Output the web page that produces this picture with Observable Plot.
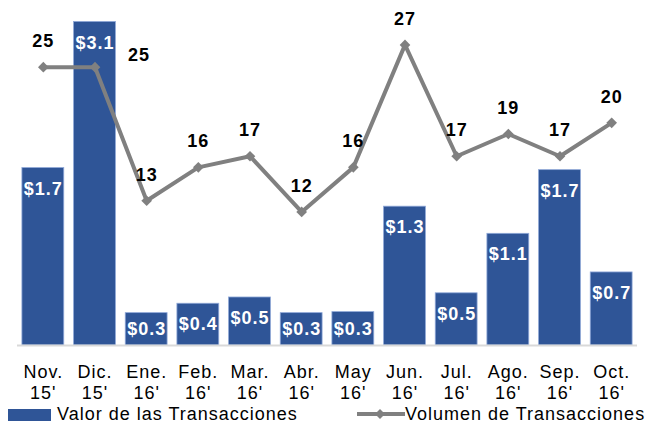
<!DOCTYPE html>
<html>
<head>
<meta charset="utf-8">
<script src="https://cdn.jsdelivr.net/npm/d3@7"></script>
<script src="https://cdn.jsdelivr.net/npm/@observablehq/plot@0.6"></script>
<style>
  html, body { margin: 0; padding: 0; background: #fff; }
  #chart { position: relative; width: 658px; height: 425px; font-family: "Liberation Sans", Arial, sans-serif; }
  #chart > svg { position: absolute; left: 0; top: 0; }
  .lg { position: absolute; font-size: 18px; letter-spacing: 1px; color: #000; line-height: 1; }
</style>
</head>
<body>
<div id="chart"></div>
<script>
const months = ["Nov.", "Dic.", "Ene.", "Feb.", "Mar.", "Abr.", "May", "Jun.", "Jul.", "Ago.", "Sep.", "Oct."];
const years  = ["15'", "15'", "16'", "16'", "16'", "16'", "16'", "16'", "16'", "16'", "16'", "16'"];
const valor   = [1.70, 3.10, 0.31, 0.40, 0.46, 0.31, 0.32, 1.33, 0.50, 1.07, 1.68, 0.70];
const volumen = [25, 25, 13, 16, 17, 12, 16, 27, 17, 19, 17, 20];

const data = months.map((m, i) => ({m, yr: years[i], v: valor[i], n: volumen[i]}));

const FONT = "Liberation Sans, Arial, sans-serif";
const common = {
  width: 658, height: 400,
  marginLeft: 17, marginRight: 21, marginTop: 11, marginBottom: 55,
  x: {type: "band", domain: months, paddingInner: 0.19, paddingOuter: 0.095, round: false, axis: null},
  style: {fontFamily: FONT, fontSize: "18px", background: "transparent", overflow: "visible"}
};

const bars = Plot.plot({
  ...common,
  y: {domain: [0, 3.2], axis: null},
  marks: [
    Plot.barY(data, {x: "m", y: "v", fill: "#2F5597", stroke: "#8FA8D8", strokeWidth: 0.8}),
    Plot.ruleY([0], {stroke: "#d9d9d9", strokeWidth: 2}),
    Plot.text(data, {
      x: "m", y: d => Math.max(d.v - 0.2, d.v / 2),
      text: d => "$" + d.v.toFixed(1),
      fill: "white", fontWeight: "bold", fontSize: 18
    }),
    Plot.text(data, {x: "m", y: () => 0, text: "m", dy: 27, fontSize: 18, fill: "#000"}),
    Plot.text(data, {x: "m", y: () => 0, text: "yr", dy: 48, fontSize: 18, fill: "#000"})
  ]
});

const line = Plot.plot({
  ...common,
  y: {domain: [0, 30], axis: null},
  marks: [
    Plot.line(data, {x: "m", y: "n", stroke: "#808080", strokeWidth: 4}),
    Plot.dot(data, {x: "m", y: "n", symbol: "diamond2", r: 4.8, fill: "#808080"}),
    Plot.text(data, {filter: d => d.m !== "Dic.", x: "m", y: "n", text: d => String(d.n), dy: -26, fontWeight: "bold", fontSize: 18, fill: "#000"}),
    Plot.text(data, {filter: d => d.m === "Dic.", x: "m", y: "n", text: d => String(d.n), dx: 44, dy: -12, fontWeight: "bold", fontSize: 18, fill: "#000"})
  ]
});

for (const svg of [bars, line]) {
  svg.querySelectorAll("text").forEach(t => t.style.letterSpacing = "1px");
}

const chart = document.getElementById("chart");
chart.appendChild(bars);
chart.appendChild(line);

// Legend below the chart
const legend = document.createElement("div");
legend.innerHTML = `
  <div style="position:absolute;left:8px;top:409px;width:43px;height:12px;background:#2F5597"></div>
  <div class="lg" style="left:57px;top:405px">Valor de las Transacciones</div>
  <svg style="position:absolute;left:355px;top:406px" width="52" height="16">
    <line x1="2" y1="8" x2="50" y2="8" stroke="#808080" stroke-width="4"/>
    <path d="M25,3 L30,8 L25,13 L20,8 Z" fill="#808080"/>
  </svg>
  <div class="lg" style="left:405px;top:405px">Volumen de Transacciones</div>`;
chart.appendChild(legend);
</script>
</body>
</html>
